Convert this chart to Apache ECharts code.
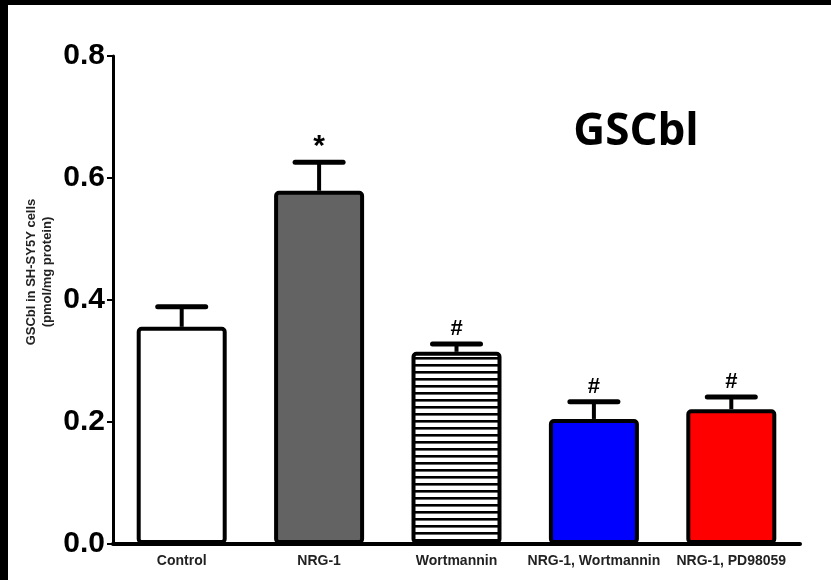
<!DOCTYPE html>
<html>
<head>
<meta charset="utf-8">
<script src="https://cdn.jsdelivr.net/npm/echarts@6/dist/echarts.min.js"></script>
<style>
  html, body { margin: 0; padding: 0; background: #fff; }
  #chart { width: 831px; height: 580px; }
</style>
</head>
<body>
<div id="chart"></div>
<script>
// GSCbl levels in SH-SY5Y cells by treatment (mean, upper SEM)
var categories = ['Control', 'NRG-1', 'Wortmannin', 'NRG-1, Wortmannin', 'NRG-1, PD98059'];
var means = [0.356, 0.579, 0.315, 0.205, 0.221];
var sems = [0.033, 0.047, 0.013, 0.028, 0.020];
var marks = ['', '*', '#', '#', '#'];
var yTicks = [0, 0.2, 0.4, 0.6, 0.8];

// horizontal-stripe fill for the Wortmannin bar
var stripe = document.createElement('canvas');
stripe.width = 8; stripe.height = 7;
var sctx = stripe.getContext('2d');
sctx.fillStyle = '#ffffff';
sctx.fillRect(0, 0, 8, 7);
sctx.fillStyle = '#000000';
sctx.fillRect(0, 0, 8, 2.6);

var fills = ['#ffffff', '#636363', { image: stripe, repeat: 'repeat' }, '#0000ff', '#ff0000'];

var barData = means.map(function (v, i) {
  return { value: v, itemStyle: { color: fills[i] } };
});
var errData = means.map(function (v, i) { return [i, v, v + sems[i], marks[i]]; });

var chart = echarts.init(document.getElementById('chart'));
chart.setOption({
  animation: false,
  backgroundColor: '#ffffff',
  grid: { left: 113, right: 31, top: 56, bottom: 36 },
  xAxis: {
    type: 'category',
    data: categories,
    axisLine: { lineStyle: { color: '#000', width: 4 } },
    axisTick: { alignWithLabel: true, length: 5, lineStyle: { color: '#000', width: 3 } },
    axisLabel: {
      color: '#222', fontFamily: 'Liberation Sans, Arial', fontWeight: 'bold',
      fontSize: 14, margin: 10, interval: 0
    }
  },
  yAxis: {
    type: 'value',
    min: yTicks[0],
    max: yTicks[yTicks.length - 1],
    interval: 0.2,
    splitLine: { show: false },
    axisLine: { show: true, lineStyle: { color: '#000', width: 3 } },
    axisTick: { show: true, length: 6, lineStyle: { color: '#000', width: 2 } },
    axisLabel: {
      color: '#000', fontFamily: 'Liberation Sans, Arial', fontWeight: 'bold',
      fontSize: 30, margin: 8,
      formatter: function (v) { return v.toFixed(1); }
    }
  },
  graphic: [
    { type: 'rect', shape: { x: 0, y: 0, width: 831, height: 5 }, style: { fill: '#000' }, z: 100 },
    { type: 'rect', shape: { x: 0, y: 0, width: 8, height: 580 }, style: { fill: '#000' }, z: 100 },
    {
      type: 'text', x: 636, y: 132,
      style: {
        text: 'GSCbl', fill: '#000', font: 'bold 44px "Open Sans", sans-serif',
        textAlign: 'center', textVerticalAlign: 'middle'
      }
    },
    {
      type: 'text', x: 39, y: 272, rotation: Math.PI / 2,
      style: {
        text: 'GSCbl in SH-SY5Y cells\n(pmol/mg protein)', fill: '#222',
        font: 'bold 13px "Liberation Sans", Arial', lineHeight: 16,
        textAlign: 'center', textVerticalAlign: 'middle'
      }
    }
  ],
  series: [
    {
      type: 'bar',
      data: barData,
      barWidth: 90,
      itemStyle: { borderColor: '#000', borderWidth: 4, borderRadius: 3 },
      z: 2
    },
    {
      type: 'custom',
      data: errData,
      z: 3,
      renderItem: function (params, api) {
        var x = api.value(0);
        var base = api.coord([x, api.value(1)]);
        var top = api.coord([x, api.value(2)]);
        var children = [
          { type: 'line', shape: { x1: base[0], y1: base[1], x2: top[0], y2: top[1] },
            style: { stroke: '#000', lineWidth: 4 } },
          { type: 'line', shape: { x1: top[0] - 24, y1: top[1], x2: top[0] + 24, y2: top[1] },
            style: { stroke: '#000', lineWidth: 5, lineCap: 'round' } }
        ];
        var m = api.value(3);
        if (m) {
          var star = m === '*';
          children.push({
            type: 'text', x: top[0], y: top[1] - (star ? 0 : 4),
            style: {
              text: m, fill: '#000',
              font: 'bold ' + (star ? 30 : 22) + 'px "Liberation Sans", Arial',
              textAlign: 'center', textVerticalAlign: 'bottom'
            }
          });
        }
        return { type: 'group', children: children };
      }
    }
  ]
});
</script>
</body>
</html>
